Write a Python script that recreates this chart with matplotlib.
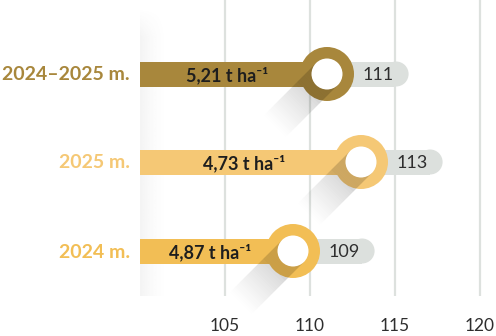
import numpy as np
import matplotlib
matplotlib.use("Agg")
import matplotlib.pyplot as plt
from matplotlib.patches import Rectangle, Ellipse, Polygon

# ---- data ----
categories = ["2024–2025 m.", "2025 m.", "2024 m."]
values = [111, 113, 109]
yield_labels = ["5,21 t ha⁻¹", "4,73 t ha⁻¹", "4,87 t ha⁻¹"]
tick_values = [105, 110, 115, 120]
tick_labels = ["105", "110", "115", "120"]
bar_colors = ["#A8873C", "#F5C875", "#F2BE55"]

# ---- layout ----
W, H = 496, 336
XMIN = 100
PXU = 17.0  # pixels per unit
x_left = XMIN - 140 / PXU
x_right = x_left + W / PXU
row_y = [74, 162, 251]
bar_h = 25
ring_r = 27
hole_r = 15.5
pill_extra = 4.8
grid_bottom = 296

FONT = ["Lato", "DejaVu Sans"]

fig = plt.figure(figsize=(W / 100, H / 100), dpi=100)
ax = fig.add_axes([0, 0, 1, 1])
ax.set_xlim(x_left, x_right)
ax.set_ylim(H, 0)
ax.axis("off")

# left soft gradient strip
grad_w = 30 / PXU
u = np.linspace(0, 1, 64)
v = np.linspace(0, 1, 200)
U, V = np.meshgrid(u, v)
alpha = 0.075 * (1 - U) ** 1.8 * np.clip(V * 10, 0, 1)
img = np.zeros((200, 64, 4))
img[..., :3] = 0.4
img[..., 3] = alpha
ax.imshow(img, extent=(XMIN, XMIN + grad_w, grid_bottom, 8), aspect="auto",
          zorder=1, interpolation="bilinear")

# gridlines
for t, tl in zip(tick_values, tick_labels):
    ax.plot([t, t], [0, grid_bottom], color="#DDE1DE", lw=1.6, zorder=1,
            solid_capstyle="butt")
    ax.text(t, 326, tl, ha="center", va="center", fontsize=12.5,
            color="#2E2E2E", family=FONT, fontweight="normal")

def px2u(p):
    return p / PXU

for cat, val, ylab, col, yc in zip(categories, values, yield_labels, bar_colors, row_y):
    # gray pill
    end = val + pill_extra
    cap = px2u(bar_h / 2)
    ax.add_patch(Rectangle((val, yc - bar_h / 2), end - cap - val, bar_h,
                           color="#DCE0DD", lw=0, zorder=2))
    ax.add_patch(Ellipse((end - cap, yc), 2 * cap, bar_h, color="#DCE0DD", lw=0, zorder=2))
    # bar
    ax.add_patch(Rectangle((XMIN, yc - bar_h / 2), val - XMIN, bar_h,
                           color=col, lw=0, zorder=3))
    # ring
    ax.add_patch(Ellipse((val, yc), 2 * px2u(ring_r), 2 * ring_r, color=col, lw=0, zorder=4))
    # long shadow (down-left at 45 deg)
    d = np.array([-1, 1]) / np.sqrt(2)
    p = np.array([1, 1]) / np.sqrt(2)
    L = 76
    n = 40
    for i in range(n):
        s0 = L * i / n
        s1 = L * (i + 1) / n
        sm = (s0 + s1) / 2
        if sm < ring_r:
            a = 0.16
        else:
            a = 0.14 * max(0, 1 - (sm - ring_r) / (L - ring_r)) ** 1.2
        pts = []
        for s, side in [(s0, 1), (s1, 1), (s1, -1), (s0, -1)]:
            dx = d[0] * s + p[0] * hole_r * side
            dy = d[1] * s + p[1] * hole_r * side
            pts.append((val + px2u(dx), yc + dy))
        ax.add_patch(Polygon(pts, closed=True, facecolor="black", alpha=a,
                             lw=0, zorder=5))
    # hole
    ax.add_patch(Ellipse((val, yc), 2 * px2u(hole_r), 2 * hole_r, color="white", lw=0, zorder=6))
    # texts
    ax.text((XMIN + val) / 2 - 0.4, yc + 1, ylab, ha="center", va="center",
            fontsize=13, fontweight="bold", color="#1E1E1E", family=FONT, zorder=7)
    ax.text(val + 3.0, yc + 1, str(val), ha="center", va="center",
            fontsize=13, fontweight="normal", color="#2E2E2E", family=FONT, zorder=7)
    ax.text(XMIN - px2u(10), yc + 1, cat, ha="right", va="center",
            fontsize=14, fontweight="bold", color=col, family=FONT, zorder=7)

fig.savefig("out.png", dpi=100)
